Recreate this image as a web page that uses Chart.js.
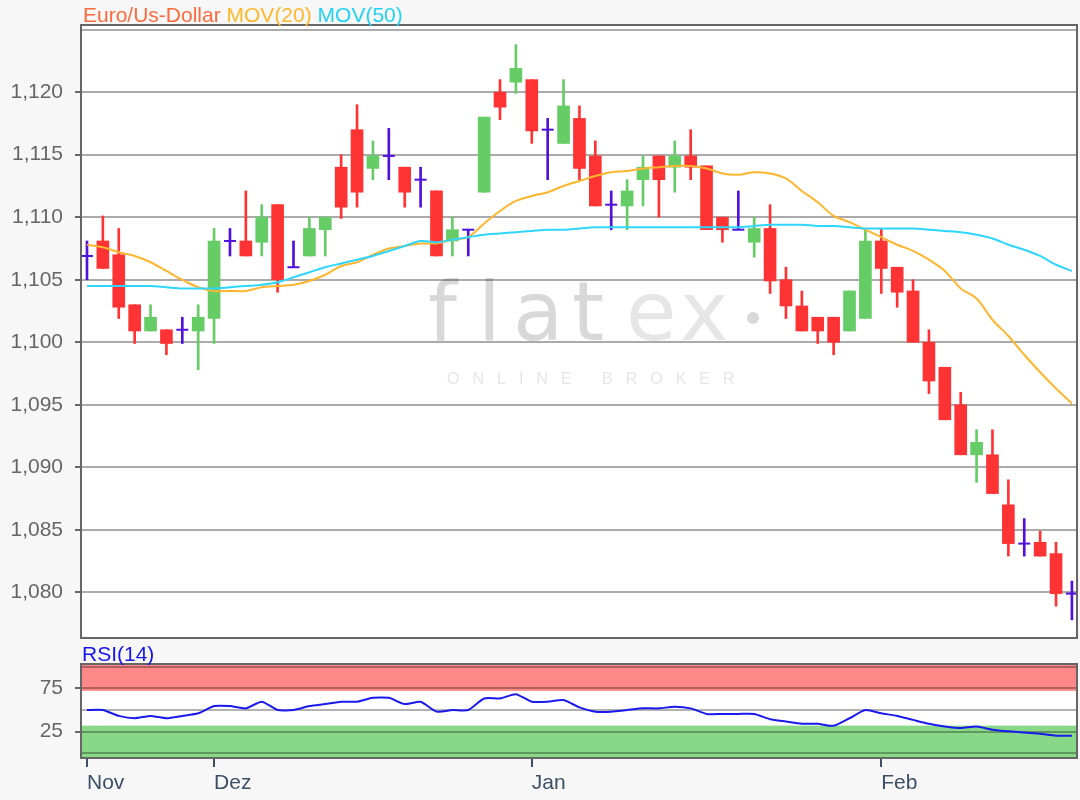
<!DOCTYPE html>
<html><head><meta charset="utf-8">
<script src="https://cdn.jsdelivr.net/npm/chart.js@4.4.1/dist/chart.umd.min.js"></script>
<style>
html,body{margin:0;padding:0;background:#f7f7f7;}
#wrap{position:relative;width:1080px;height:800px;overflow:hidden;font-family:"Liberation Sans",Arial,sans-serif;}
canvas{position:absolute;left:0;}
.lbl{position:absolute;font-size:21px;line-height:21px;white-space:nowrap;z-index:5;}
</style></head><body>
<div id="wrap">
<canvas id="main" width="1080" height="640" style="top:0"></canvas>
<canvas id="rsi" width="1080" height="160" style="top:640px"></canvas>
<div class="lbl" style="left:83px;top:4px"><span style="color:#ff6a3d">Euro/Us-Dollar</span> <span style="color:#ffb829">MOV(20)</span> <span style="color:#22d3f7">MOV(50)</span></div>
<div class="lbl" style="left:82px;top:643px;color:#1515f0">RSI(14)</div>
</div>
<script>
// ---- data ----
const dates = [
 '2019-11-20','2019-11-21','2019-11-22','2019-11-25','2019-11-26','2019-11-27','2019-11-28','2019-11-29',
 '2019-12-02','2019-12-03','2019-12-04','2019-12-05','2019-12-06','2019-12-09','2019-12-10','2019-12-11','2019-12-12','2019-12-13',
 '2019-12-16','2019-12-17','2019-12-18','2019-12-19','2019-12-20','2019-12-23','2019-12-24','2019-12-27','2019-12-30','2019-12-31',
 '2020-01-02','2020-01-03','2020-01-06','2020-01-07','2020-01-08','2020-01-09','2020-01-10','2020-01-13','2020-01-14','2020-01-15',
 '2020-01-16','2020-01-17','2020-01-20','2020-01-21','2020-01-22','2020-01-23','2020-01-24','2020-01-27','2020-01-28','2020-01-29',
 '2020-01-30','2020-01-31',
 '2020-02-03','2020-02-04','2020-02-05','2020-02-06','2020-02-07','2020-02-10','2020-02-11','2020-02-12','2020-02-13','2020-02-14',
 '2020-02-17','2020-02-18','2020-02-19'
];
const monthNames = ['Jan','Feb','Mär','Apr','Mai','Jun','Jul','Aug','Sep','Okt','Nov','Dez'];

const openP = [
 1.1069,1.1081,1.1070,1.1030,1.1009,1.1010,1.1010,1.1009,1.1019,1.1081,
 1.1081,1.1080,1.1110,1.1060,1.1069,1.1090,1.1140,1.1170,1.1139,1.1149,
 1.1140,1.1130,1.1121,1.1081,1.1090,1.1120,1.1200,1.1208,1.1210,1.1170,
 1.1159,1.1179,1.1149,1.1110,1.1109,1.1130,1.1149,1.1140,1.1149,1.1141,
 1.1100,1.1090,1.1080,1.1091,1.1050,1.1029,1.1020,1.1020,1.1009,1.1019,
 1.1081,1.1060,1.1041,1.1000,1.0980,1.0950,1.0910,1.0910,1.0870,1.0839,
 1.0840,1.0831,1.0799
];
const highP = [
 1.1081,1.1101,1.1091,1.1030,1.1030,1.1010,1.1020,1.1030,1.1091,1.1091,
 1.1121,1.1110,1.1110,1.1081,1.1100,1.1100,1.1150,1.1190,1.1161,1.1171,
 1.1140,1.1140,1.1121,1.1100,1.1090,1.1180,1.1210,1.1238,1.1210,1.1179,
 1.1210,1.1189,1.1161,1.1121,1.1130,1.1149,1.1149,1.1161,1.1170,1.1141,
 1.1100,1.1121,1.1100,1.1110,1.1060,1.1041,1.1020,1.1020,1.1041,1.1090,
 1.1091,1.1060,1.1050,1.1010,1.0980,1.0960,1.0930,1.0930,1.0890,1.0859,
 1.0849,1.0840,1.0809
];
const lowP = [
 1.1050,1.1059,1.1019,1.0999,1.1009,1.0990,1.0999,1.0978,1.0999,1.1069,
 1.1069,1.1069,1.1040,1.1060,1.1069,1.1069,1.1099,1.1108,1.1130,1.1130,
 1.1108,1.1108,1.1069,1.1069,1.1069,1.1120,1.1178,1.1199,1.1159,1.1130,
 1.1159,1.1130,1.1109,1.1090,1.1090,1.1109,1.1100,1.1120,1.1130,1.1090,
 1.1080,1.1090,1.1068,1.1039,1.1019,1.1009,1.0999,1.0990,1.1009,1.1019,
 1.1039,1.1028,1.1000,1.0959,1.0938,1.0910,1.0888,1.0879,1.0829,1.0829,
 1.0829,1.0789,1.0778
];
const closeP = [
 1.1069,1.1059,1.1028,1.1009,1.1020,1.0999,1.1010,1.1020,1.1081,1.1081,
 1.1069,1.1100,1.1050,1.1060,1.1091,1.1100,1.1108,1.1120,1.1149,1.1149,
 1.1120,1.1130,1.1069,1.1090,1.1090,1.1180,1.1188,1.1219,1.1169,1.1170,
 1.1189,1.1139,1.1109,1.1110,1.1121,1.1140,1.1130,1.1149,1.1140,1.1090,
 1.1090,1.1090,1.1091,1.1049,1.1029,1.1009,1.1009,1.1000,1.1041,1.1081,
 1.1059,1.1040,1.1000,1.0969,1.0938,1.0910,1.0920,1.0879,1.0839,1.0839,
 1.0829,1.0799,1.0799
];
const mov20 = [
 1.1078,1.1076,1.1072,1.1069,1.1064,1.1057,1.1050,1.1044,1.1041,1.1041,
 1.1041,1.1044,1.1045,1.1046,1.1049,1.1054,1.1061,1.1064,1.1070,1.1075,
 1.1077,1.1079,1.1079,1.1082,1.1084,1.1095,1.1105,1.1113,1.1117,1.1120,
 1.1125,1.1129,1.1133,1.1136,1.1137,1.1139,1.1140,1.1141,1.1141,1.1139,
 1.1135,1.1134,1.1136,1.1135,1.1131,1.1121,1.1112,1.1101,1.1096,1.1090,
 1.1084,1.1078,1.1073,1.1066,1.1057,1.1043,1.1035,1.1018,1.1005,1.0990,
 1.0976,1.0963,1.0951
];
const mov50 = [
 1.1045,1.1045,1.1045,1.1045,1.1045,1.1044,1.1043,1.1043,1.1043,1.1044,
 1.1045,1.1046,1.1048,1.1052,1.1056,1.1060,1.1063,1.1066,1.1069,1.1073,
 1.1077,1.1081,1.1080,1.1082,1.1084,1.1086,1.1087,1.1088,1.1089,1.1090,
 1.1090,1.1091,1.1092,1.1092,1.1092,1.1092,1.1092,1.1092,1.1092,1.1092,
 1.1092,1.1092,1.1093,1.1094,1.1094,1.1094,1.1093,1.1093,1.1092,1.1091,
 1.1091,1.1091,1.1091,1.1090,1.1089,1.1088,1.1086,1.1083,1.1078,1.1074,
 1.1069,1.1062,1.1057
];
const rsi14 = [
 50.0,50.0,43.2,40.5,43.2,40.5,43.2,46.2,54.5,54.5,
 51.9,59.5,50.0,50.0,54.5,56.8,59.5,59.5,64.0,64.0,
 56.8,59.5,48.1,50.0,50.0,63.3,63.3,68.2,59.5,59.5,
 61.4,53.0,48.1,48.1,50.0,51.9,51.9,53.8,51.9,45.5,
 45.5,45.5,45.5,39.4,36.7,34.1,34.1,31.8,40.5,50.0,
 46.2,43.2,38.6,34.1,31.0,29.2,31.0,27.3,25.4,24.2,
 22.7,20.4,20.4
];
const priceTicks = [1.080,1.085,1.090,1.095,1.100,1.105,1.110,1.115,1.120,1.125];
const priceLabelMax = 1.120;
const rsiTicks = [0,25,50,75,100];
const rsiLabelTicks = [25,75];
const rsiOverbought = 72, rsiOversold = 32;

// ---- styles ----
const FONT = '"Liberation Sans", Arial, sans-serif';
const UP = '#66cc66', DOWN = '#ff3333', DOJI = '#5010dd';
const X_MIN = -0.44, X_MAX = 62.32;

const candleColor = i => closeP[i] > openP[i] ? UP : (closeP[i] < openP[i] ? DOWN : DOJI);
const idx = dates.map((d, i) => i);
const wickData = idx.map(i => ({x: i, y: [lowP[i], highP[i]]}));
const bodyIdx = idx.filter(i => openP[i] !== closeP[i]);
const bodyData = bodyIdx.map(i => ({x: i, y: [openP[i], closeP[i]]}));
const dojiIdx = idx.filter(i => openP[i] === closeP[i]);
const dojiData = dojiIdx.map(i => ({x: i, y: closeP[i]}));
const ma20Data = idx.map(i => ({x: i, y: mov20[i]}));
const ma50Data = idx.map(i => ({x: i, y: mov50[i]}));
const rsiData = idx.map(i => ({x: i, y: rsi14[i]}));
const monthStarts = idx.filter(i => i === 0 || dates[i].slice(5, 7) !== dates[i - 1].slice(5, 7));

const noPad = s => { s.paddingTop = 0; s.paddingBottom = 0; s.paddingLeft = 0; s.paddingRight = 0; };

const borderPlugin = {
  id: 'frame',
  beforeDraw(chart) {
    const {ctx, chartArea: a} = chart;
    ctx.save();
    ctx.fillStyle = '#ffffff';
    ctx.fillRect(a.left, a.top, a.right - a.left, a.bottom - a.top);
    ctx.restore();
  },
  afterDraw(chart) {
    const {ctx, chartArea: a} = chart;
    ctx.save();
    ctx.strokeStyle = '#666666';
    ctx.lineWidth = 2;
    ctx.strokeRect(a.left + 1, a.top, a.right - a.left - 1, a.bottom - a.top);
    ctx.restore();
  }
};
const watermarkPlugin = {
  id: 'watermark',
  beforeDraw(chart) {
    const ctx = chart.ctx;
    ctx.save();
    ctx.textBaseline = 'alphabetic';
    ctx.textAlign = 'left';
    ctx.font = '82px "DejaVu Sans", sans-serif';
    const letters = [['f', 428, '#d8d8d8'], ['l', 478, '#d8d8d8'], ['a', 513, '#d8d8d8'], ['t', 572, '#d8d8d8'],
                     ['e', 626, '#e6e6e6'], ['x', 680, '#e6e6e6']];
    letters.forEach(([ch, x, c]) => { ctx.fillStyle = c; ctx.fillText(ch, x, 340); });
    ctx.fillStyle = '#d8d8d8';
    ctx.beginPath();
    ctx.arc(753, 318, 6, 0, Math.PI * 2);
    ctx.fill();
    ctx.font = '16px ' + FONT;
    ctx.letterSpacing = '13px';
    ctx.fillStyle = '#e6e6e6';
    ctx.fillText('ONLINE BROKER', 447, 384);
    ctx.restore();
  }
};
const rsiBandPlugin = {
  id: 'bands',
  beforeDraw(chart) {
    const {ctx, chartArea: a, scales: {y}} = chart;
    ctx.save();
    ctx.fillStyle = '#ffffff';
    ctx.fillRect(a.left, a.top, a.right - a.left, a.bottom - a.top);
    const ob = y.getPixelForValue(rsiOverbought);
    const os = y.getPixelForValue(rsiOversold);
    ctx.fillStyle = '#ff8888';
    ctx.fillRect(a.left, a.top, a.right - a.left, ob - a.top);
    ctx.fillStyle = '#88d888';
    ctx.fillRect(a.left, os, a.right - a.left, a.bottom - os);
    ctx.restore();
  },
  afterDraw: borderPlugin.afterDraw
};

Chart.defaults.font.family = FONT;

new Chart(document.getElementById('main'), {
  type: 'bar',
  data: {
    datasets: [
      {type: 'line', data: ma50Data, borderColor: '#2ed6ff', borderWidth: 2, pointRadius: 0, tension: 0.3, order: 0},
      {type: 'line', data: ma20Data, borderColor: '#ffb52e', borderWidth: 2, pointRadius: 0, tension: 0.3, order: 1},
      {type: 'line', data: dojiData, showLine: false, pointStyle: 'line', pointRadius: 6, pointBorderWidth: 2,
       pointBorderColor: DOJI, borderColor: DOJI, order: 2},
      {type: 'bar', data: bodyData, backgroundColor: bodyIdx.map(candleColor), barThickness: 12, grouped: false, order: 3},
      {type: 'bar', data: wickData, backgroundColor: idx.map(candleColor), barThickness: 2, grouped: false, order: 4}
    ]
  },
  options: {
    responsive: false, animation: false,
    layout: {autoPadding: false, padding: {top: 25, right: 3, bottom: 2, left: 0}},
    plugins: {legend: {display: false}, tooltip: {enabled: false}},
    scales: {
      x: {type: 'linear', min: X_MIN, max: X_MAX, offset: false, display: false, afterFit: noPad},
      y: {
        type: 'linear', min: 1.07635, max: 1.12537,
        afterFit: s => { s.width = 80; noPad(s); },
        afterBuildTicks: s => { s.ticks = priceTicks.map(v => ({value: v})); },
        ticks: {
          autoSkip: false,
          callback: v => v <= priceLabelMax + 1e-6 ? v.toFixed(3).replace('.', ',') : '',
          font: {size: 21}, color: '#666666', padding: 12
        },
        grid: {color: 'rgba(0,0,0,0.33)', lineWidth: 2, tickLength: 5,
               tickColor: c => (c.tick && c.tick.value <= priceLabelMax + 1e-6) ? '#666666' : 'rgba(0,0,0,0)'},
        border: {display: false}
      }
    }
  },
  plugins: [borderPlugin, watermarkPlugin]
});

new Chart(document.getElementById('rsi'), {
  type: 'line',
  data: {datasets: [{data: rsiData, borderColor: '#1a1aee', borderWidth: 2, pointRadius: 0, tension: 0.2}]},
  options: {
    responsive: false, animation: false,
    layout: {autoPadding: false, padding: {top: 24, right: 3, bottom: 0, left: 0}},
    plugins: {legend: {display: false}, tooltip: {enabled: false}},
    scales: {
      x: {
        type: 'linear', min: X_MIN, max: X_MAX, offset: false,
        afterFit: s => { s.height = 42; noPad(s); },
        afterBuildTicks: s => { s.ticks = monthStarts.map(v => ({value: v})); },
        ticks: {
          callback: v => monthNames[parseInt(dates[v].slice(5, 7), 10) - 1],
          align: 'start', autoSkip: false, maxRotation: 0, font: {size: 21}, color: '#3b4f66', padding: 4
        },
        grid: {drawOnChartArea: false, tickLength: 9, tickColor: '#3b4f66', lineWidth: 2},
        border: {display: false}
      },
      y: {
        type: 'linear', min: -5.3, max: 103,
        afterFit: s => { s.width = 80; noPad(s); },
        afterBuildTicks: s => { s.ticks = rsiTicks.map(v => ({value: v})); },
        ticks: {
          autoSkip: false,
          callback: v => rsiLabelTicks.includes(v) ? String(v) : '',
          font: {size: 21}, color: '#666666', padding: 12
        },
        grid: {color: 'rgba(0,0,0,0.3)', lineWidth: 2, tickLength: 5,
               tickColor: c => (c.tick && rsiLabelTicks.includes(c.tick.value)) ? '#666666' : 'rgba(0,0,0,0)'},
        border: {display: false}
      }
    }
  },
  plugins: [rsiBandPlugin]
});
</script>
</body></html>
